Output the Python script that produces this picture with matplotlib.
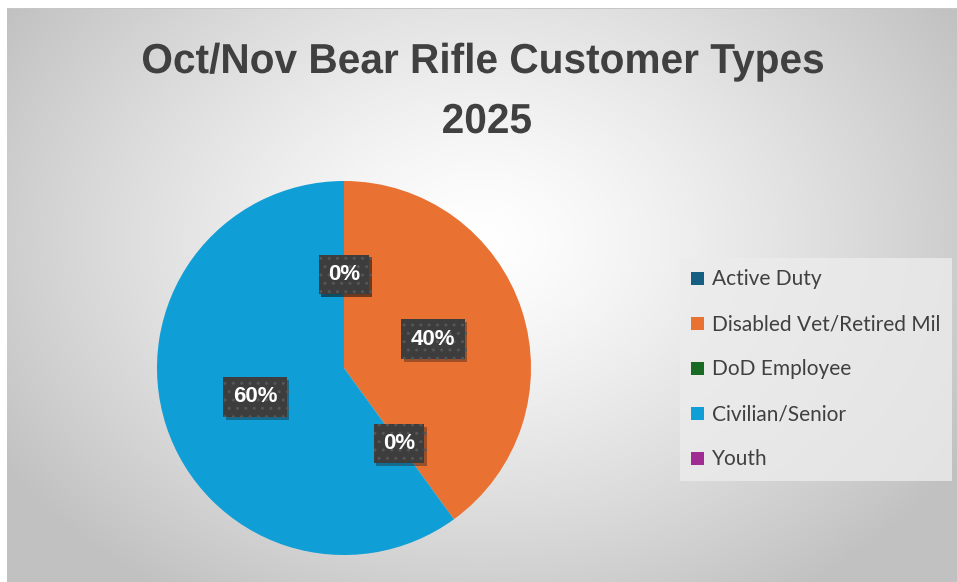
import matplotlib
matplotlib.use("Agg")
import matplotlib.pyplot as plt
import matplotlib.patheffects as pe
from matplotlib.font_manager import FontProperties
from matplotlib.patches import PathPatch
from matplotlib.textpath import TextPath
from matplotlib.transforms import Affine2D
import numpy as np

# data
categories = ["Active Duty", "Disabled Vet/Retired Mil", "DoD Employee",
              "Civilian/Senior", "Youth"]
shares = [0, 40, 0, 60, 0]
colors = ["#156082", "#E97132", "#196B24", "#0F9ED5", "#A02B93"]
title_lines = ["Oct/Nov Bear Rifle Customer Types", "2025"]

W, H = 957, 582
fig = plt.figure(figsize=(W / 100, H / 100), dpi=100)

# radial grey gradient background (chart area starts a few px in)
bg = fig.add_axes([0, 0, 1, 1], zorder=-5)
yy, xx = np.mgrid[0:H, 0:W]
r = np.hypot((xx - 480) / 560, (yy - 240) / 420)
t = np.clip(r, 0, 1) ** 1.3
grey = 1.0 - 0.24 * t
img = np.dstack([grey, grey, grey])
img[:8, :, :] = 1.0
img[:, :7, :] = 1.0
img[8, 7:, :] = 0.78
bg.imshow(img, extent=[0, W, H, 0], aspect="auto", interpolation="bilinear")
bg.set_xlim(0, W)
bg.set_ylim(H, 0)
bg.axis("off")

# title: no narrow font installed, so squeeze a bold text path horizontally
tfont = FontProperties(family="Liberation Sans", weight="bold")
size = 30 / 0.716          # cap height ~30 px
p1 = TextPath((0, 0), title_lines[0], size=size, prop=tfont)
ext = p1.get_extents()
sx = 680 / ext.width
p2 = TextPath((0, 0), title_lines[1], size=size, prop=tfont)
ext2 = p2.get_extents()
for path, e, xc, base in [(p1, ext, 483, 73), (p2, ext2, 487, 133)]:
    w = e.width * sx
    tr = Affine2D().translate(-e.x0, 0).scale(sx, -1).translate(xc - w / 2, base)
    bg.add_patch(PathPatch(tr.transform_path(path), facecolor="#404040",
                           edgecolor="none"))

# pie: centre (344, 368) px, radius 187 px
cx, cy, rad = 344, 368, 187
ax = fig.add_axes([(cx - rad) / W, (H - cy - rad) / H, 2 * rad / W, 2 * rad / H])
wedges, _, autotexts = ax.pie(
    shares, colors=colors, startangle=90, counterclock=False,
    autopct="%.0f%%", pctdistance=0.5,
    textprops=dict(color="white", fontsize=16, fontweight="bold",
                   family=["Liberation Sans", "DejaVu Sans"]))
ax.set_xlim(-1, 1)
ax.set_ylim(-1, 1)

for at in autotexts:
    at.set_bbox(dict(boxstyle="square,pad=0.42", facecolor="#3d3d3d",
                     edgecolor="#565656", linewidth=0, hatch=".."))
    at.get_bbox_patch().set_path_effects(
        [pe.SimplePatchShadow(offset=(2, -2), alpha=0.35), pe.Normal()])

# legend
leg = fig.legend(wedges, categories, loc="upper left",
                 bbox_to_anchor=(680 / W, 1 - 258 / H),
                 frameon=True, fancybox=False,
                 prop=dict(family=["Lato", "DejaVu Sans"], size=15),
                 handlelength=0.6, handleheight=0.6, handletextpad=0.4,
                 labelspacing=1.2, borderpad=0.55, borderaxespad=0)
leg.get_frame().set_facecolor("#ececec")
leg.get_frame().set_edgecolor("none")
leg.get_frame().set_alpha(0.8)
for txt in leg.get_texts():
    txt.set_color("#404040")

fig.savefig("out.png", dpi=100)
